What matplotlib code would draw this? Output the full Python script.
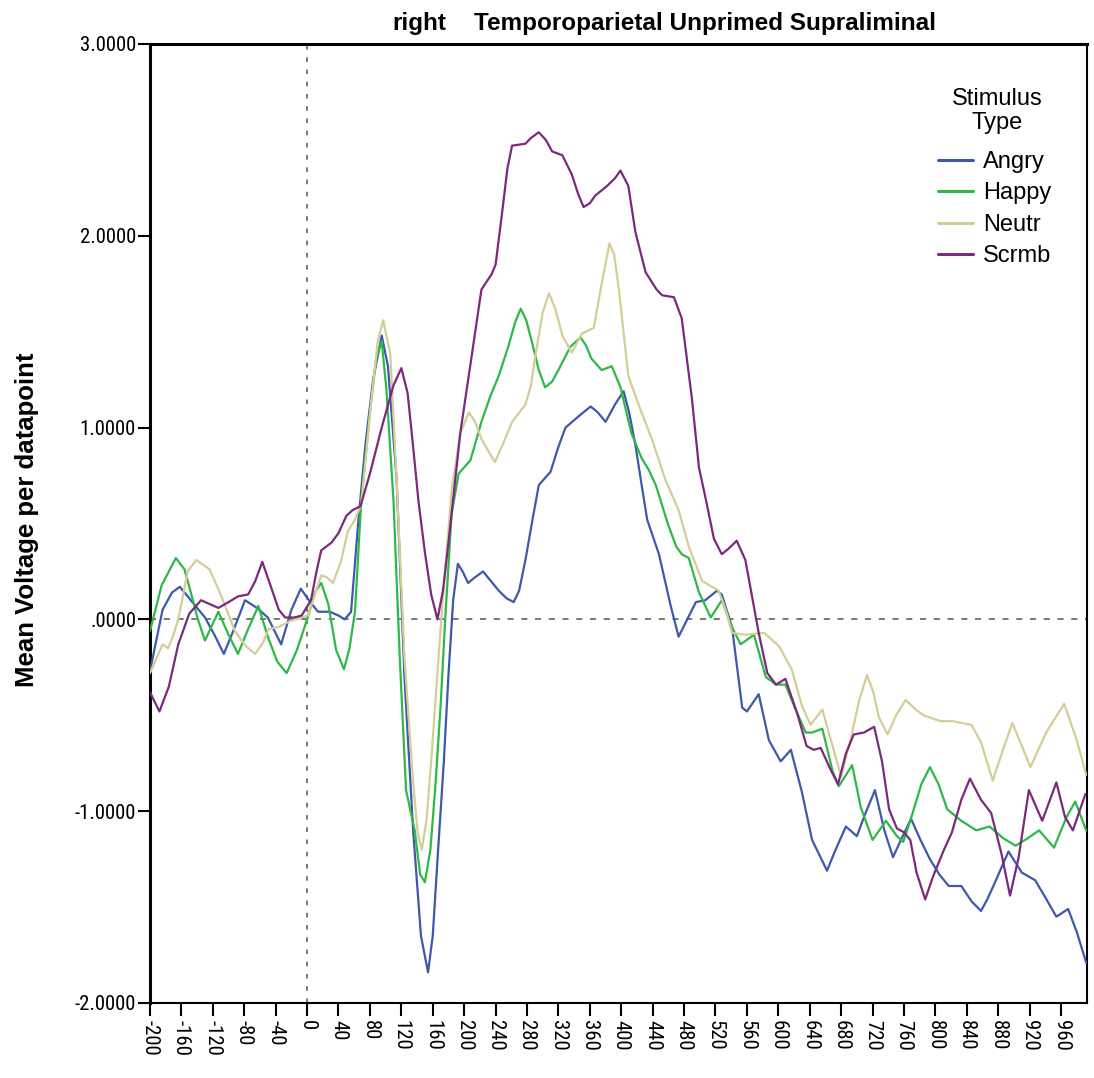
import os

import matplotlib
matplotlib.use("Agg")
import matplotlib.pyplot as plt
from matplotlib import font_manager as fm

# ---- data (time in ms, mean voltage) ----
angry_ms = [-200, -184, -172, -162, -148, -130, -118, -106, -94, -79, -64, -50, -33, -20, -8,
            4, 14, 29, 40, 48, 56, 65, 74, 84, 95, 103, 114, 124, 135, 145, 154, 160, 167,
            174, 180, 186, 192, 198, 205, 214, 224, 234, 244, 254, 263, 270, 278, 287, 295,
            310, 320, 329, 346, 361, 370, 380, 392, 403, 410, 418, 426, 433, 448, 463, 473,
            484, 495, 507, 522, 528, 541, 554, 560, 575, 588, 603, 616, 630, 643, 662, 673,
            686, 700, 710, 723, 735, 746, 756, 769, 781, 793, 805, 817, 833, 846, 858, 866,
            876, 893, 910, 927, 940, 954, 969, 980, 992]
angry_mv = [-0.27, 0.05, 0.14, 0.17, 0.10, 0.01, -0.08, -0.18, -0.06, 0.10, 0.06, 0.01, -0.13,
            0.05, 0.16, 0.09, 0.04, 0.04, 0.02, 0.0, 0.04, 0.50, 0.90, 1.25, 1.48, 1.32, 0.73,
            -0.30, -1.10, -1.65, -1.84, -1.65, -1.19, -0.75, -0.29, 0.10, 0.29, 0.25, 0.19,
            0.22, 0.25, 0.20, 0.15, 0.11, 0.09, 0.15, 0.31, 0.52, 0.70, 0.77, 0.90, 1.00, 1.06,
            1.11, 1.08, 1.03, 1.12, 1.19, 1.08, 0.91, 0.70, 0.52, 0.34, 0.07, -0.09, 0.0, 0.09,
            0.10, 0.15, 0.13, -0.04, -0.46, -0.48, -0.39, -0.63, -0.74, -0.68, -0.90, -1.15,
            -1.31, -1.20, -1.08, -1.13, -1.02, -0.89, -1.10, -1.24, -1.15, -1.04, -1.15, -1.25,
            -1.33, -1.39, -1.39, -1.47, -1.52, -1.46, -1.37, -1.21, -1.32, -1.36, -1.45, -1.55,
            -1.51, -1.63, -1.79]

happy_ms = [-200, -185, -167, -156, -148, -139, -130, -122, -113, -100, -88, -75, -62, -50, -38,
            -26, -13, 0, 10, 18, 27, 37, 47, 54, 61, 69, 80, 88, 95, 101, 110, 118, 126, 137,
            144, 150, 157, 163, 170, 176, 184, 193, 208, 222, 233, 244, 256, 265, 272, 279, 286,
            295, 303, 312, 320, 335, 348, 355, 362, 375, 388, 399, 413, 426, 435, 444, 460, 470,
            477, 486, 499, 514, 528, 541, 552, 569, 584, 597, 609, 622, 635, 643, 656, 669, 677,
            694, 705, 720, 737, 751, 759, 771, 782, 793, 804, 815, 833, 852, 869, 886, 902, 918,
            932, 951, 967, 978, 992]
happy_mv = [-0.06, 0.18, 0.32, 0.26, 0.14, 0.0, -0.11, -0.04, 0.04, -0.08, -0.18, -0.05, 0.07,
            -0.09, -0.22, -0.28, -0.16, 0.0, 0.14, 0.19, 0.08, -0.16, -0.26, -0.15, 0.04, 0.62,
            1.08, 1.36, 1.45, 1.20, 0.62, -0.20, -0.89, -1.10, -1.33, -1.37, -1.20, -0.89, -0.45,
            0.01, 0.55, 0.76, 0.83, 1.03, 1.16, 1.27, 1.42, 1.55, 1.62, 1.56, 1.45, 1.30, 1.21,
            1.24, 1.30, 1.42, 1.47, 1.43, 1.36, 1.30, 1.32, 1.21, 0.97, 0.84, 0.78, 0.70, 0.49,
            0.38, 0.34, 0.32, 0.14, 0.01, 0.10, -0.04, -0.13, -0.08, -0.30, -0.34, -0.34, -0.47,
            -0.59, -0.59, -0.57, -0.79, -0.87, -0.76, -0.98, -1.15, -1.05, -1.13, -1.16, -1.01,
            -0.86, -0.77, -0.86, -0.99, -1.05, -1.10, -1.08, -1.14, -1.18, -1.14, -1.10, -1.19,
            -1.03, -0.95, -1.10]

neutr_ms = [-200, -184, -177, -170, -164, -152, -141, -124, -109, -92, -78, -66, -56, -49, -37,
            -22, 1, 10, 18, 25, 33, 43, 52, 61, 69, 82, 90, 97, 106, 114, 124, 135, 141, 146,
            152, 158, 171, 184, 195, 206, 214, 222, 239, 250, 261, 278, 285, 290, 300, 308, 316,
            325, 337, 350, 365, 375, 385, 391, 397, 409, 422, 439, 456, 473, 486, 503, 524, 533,
            541, 558, 582, 601, 617, 630, 641, 656, 669, 680, 694, 703, 713, 721, 728, 739, 750,
            762, 775, 785, 806, 821, 846, 858, 873, 886, 898, 910, 921, 941, 964, 980, 992]
neutr_mv = [-0.28, -0.13, -0.15, -0.08, 0.0, 0.25, 0.31, 0.26, 0.12, -0.06, -0.14, -0.18, -0.12,
            -0.05, -0.04, -0.01, 0.02, 0.13, 0.23, 0.22, 0.19, 0.30, 0.46, 0.52, 0.60, 1.15, 1.45,
            1.56, 1.38, 0.73, -0.20, -0.85, -1.12, -1.20, -1.05, -0.74, 0.01, 0.67, 0.97, 1.08,
            1.03, 0.94, 0.82, 0.92, 1.03, 1.12, 1.22, 1.36, 1.60, 1.70, 1.62, 1.48, 1.39, 1.49,
            1.52, 1.75, 1.96, 1.90, 1.72, 1.27, 1.12, 0.94, 0.73, 0.57, 0.38, 0.20, 0.15, 0.05,
            -0.07, -0.08, -0.07, -0.14, -0.26, -0.45, -0.55, -0.47, -0.66, -0.82, -0.59, -0.42,
            -0.29, -0.38, -0.51, -0.60, -0.50, -0.42, -0.47, -0.50, -0.53, -0.53, -0.55, -0.64,
            -0.84, -0.68, -0.54, -0.66, -0.77, -0.59, -0.44, -0.63, -0.81]

scrmb_ms = [-200, -188, -176, -164, -150, -135, -124, -113, -100, -88, -75, -66, -57, -46, -36,
            -28, -16, -7, 5, 12, 18, 31, 40, 50, 58, 68, 80, 95, 110, 120, 128, 135, 142, 150,
            158, 166, 173, 180, 195, 208, 222, 235, 240, 248, 255, 261, 278, 285, 295, 304, 312,
            325, 337, 345, 352, 360, 367, 382, 392, 399, 409, 418, 431, 445, 452, 467, 477, 490,
            499, 508, 518, 528, 537, 547, 558, 575, 586, 597, 609, 624, 636, 645, 654, 665, 676,
            686, 696, 709, 722, 732, 741, 751, 760, 768, 776, 787, 797, 811, 821, 833, 844, 858,
            871, 884, 895, 906, 919, 936, 954, 965, 975, 991]
scrmb_mv = [-0.38, -0.48, -0.35, -0.13, 0.03, 0.10, 0.08, 0.06, 0.09, 0.12, 0.13, 0.20, 0.30,
            0.17, 0.05, 0.01, 0.01, 0.02, 0.10, 0.25, 0.36, 0.40, 0.45, 0.54, 0.57, 0.59, 0.76,
            1.00, 1.22, 1.31, 1.18, 0.90, 0.61, 0.35, 0.13, 0.0, 0.15, 0.40, 0.97, 1.33, 1.72,
            1.80, 1.85, 2.11, 2.35, 2.47, 2.48, 2.51, 2.54, 2.50, 2.44, 2.42, 2.32, 2.22, 2.15,
            2.17, 2.21, 2.26, 2.30, 2.34, 2.26, 2.02, 1.81, 1.72, 1.69, 1.68, 1.57, 1.15, 0.79,
            0.62, 0.42, 0.34, 0.37, 0.41, 0.31, -0.07, -0.28, -0.34, -0.31, -0.49, -0.66, -0.68,
            -0.67, -0.77, -0.86, -0.70, -0.60, -0.59, -0.56, -0.74, -0.99, -1.09, -1.11, -1.15,
            -1.32, -1.46, -1.34, -1.20, -1.11, -0.94, -0.83, -0.94, -1.01, -1.22, -1.44, -1.24,
            -0.89, -1.05, -0.85, -1.03, -1.10, -0.91]

series_names = ["Angry", "Happy", "Neutr", "Scrmb"]
series_colors = ["#3E58AC", "#2EB848", "#D3CE97", "#7C287D"]

x_ticks = list(range(-200, 961, 40))
y_ticks = [-2, -1, 0, 1, 2, 3]
y_tick_labels = ["-2.0000", "-1.0000", ".0000", "1.0000", "2.0000", "3.0000"]

plt.rcParams["font.family"] = ["Liberation Sans", "DejaVu Sans"]


def pick_narrow_font():
    """Find a condensed sans font for the tick labels, if one is installed."""
    order = ["liberationsansnarrow", "arialnarrow", "notosans", "roboto",
             "dejavusans", "opensans"]
    skip = ["bold", "italic", "oblique", "light", "thin", "medium", "black",
            "semi", "extra", "ultra", "[", "mono"]
    best, best_rank = None, 99
    for f in fm.fontManager.ttflist:
        base = os.path.basename(f.fname).lower().replace(" ", "").replace("_", "")
        if "narrow" not in base and "condensed" not in base:
            continue
        if any(s in base for s in skip):
            continue
        rank = len(order)
        for i, key in enumerate(order):
            if base.startswith(key):
                rank = i
                break
        if rank < best_rank:
            best, best_rank = f.fname, rank
    if best is None:
        return fm.FontProperties(family=["Liberation Sans", "DejaVu Sans"])
    return fm.FontProperties(fname=best)


fig = plt.figure(figsize=(10.94, 10.78), dpi=100)
ax = fig.add_axes([150 / 1094, 1 - 1003 / 1078, (1087 - 150) / 1094, (1003 - 44) / 1078])

# size the tick font so "-2.0000" is about as wide as in the reference
tick_fp = pick_narrow_font()
probe = fig.text(0, 0, "-2.0000", fontproperties=tick_fp, fontsize=10)
probe_w = probe.get_window_extent(renderer=fig.canvas.get_renderer()).width
probe.remove()
tick_size = min(17.0, 10 * 61 / probe_w)
tick_fp.set_size(tick_size)

# reference lines
ax.axhline(0, color="#555555", lw=1.1, ls=(0, (4, 5)), zorder=1)
ax.axvline(0, color="#555555", lw=1.1, ls=(0, (3, 5)), zorder=1)

all_ms = [angry_ms, happy_ms, neutr_ms, scrmb_ms]
all_mv = [angry_mv, happy_mv, neutr_mv, scrmb_mv]
for ms, mv, name, col in zip(all_ms, all_mv, series_names, series_colors):
    ax.plot(ms, mv, color=col, lw=1.6, label=name, solid_joinstyle="round",
            solid_capstyle="round", zorder=3)

ax.set_xlim(-200, 993)
ax.set_ylim(-2, 3)
ax.set_xticks(x_ticks)
ax.set_xticklabels([str(t) for t in x_ticks], rotation=-90)
ax.set_yticks(y_ticks)
ax.set_yticklabels(y_tick_labels)
for lbl in ax.get_xticklabels() + ax.get_yticklabels():
    lbl.set_fontproperties(tick_fp)
ax.tick_params(axis="x", direction="out", length=9, width=1.5, pad=3)
ax.tick_params(axis="y", direction="out", length=9, width=1.5, pad=1)
ax.grid(False)

for side in ["left", "top"]:
    ax.spines[side].set_linewidth(2.2)
for side in ["right", "bottom"]:
    ax.spines[side].set_linewidth(1.5)
for sp in ax.spines.values():
    sp.set_color("black")

fig.text(27 / 1094, 1 - 520 / 1078, "Mean Voltage per datapoint", fontsize=18.5,
         fontweight="bold", rotation=90, ha="center", va="center")

fig.text(419 / 1094, 1 - 30 / 1078, "right", fontsize=17.5, fontweight="bold",
         ha="center", va="baseline")
fig.text(705 / 1094, 1 - 30 / 1078, "Temporoparietal Unprimed Supraliminal", fontsize=17.5,
         fontweight="bold", ha="center", va="baseline")

# legend title drawn on its own so its spacing can match the reference
fig.text(997 / 1094, 1 - 111 / 1078, "Stimulus\nType", fontsize=17, ha="center",
         va="center", multialignment="center", linespacing=1.12)
leg = ax.legend(loc="upper left", bbox_to_anchor=(938 / 1094, 1 - 151 / 1078),
                bbox_transform=fig.transFigure, frameon=False, fontsize=17,
                handlelength=1.5, handletextpad=0.42, labelspacing=0.4,
                borderpad=0, borderaxespad=0)
for line in leg.get_lines():
    line.set_linewidth(2.2)

fig.savefig("out.png", dpi=100)
